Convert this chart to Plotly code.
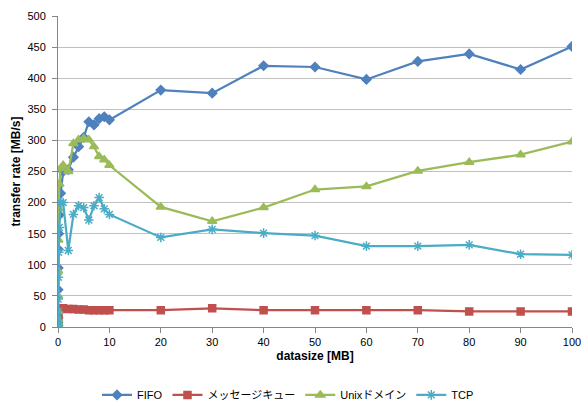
import plotly.graph_objects as go

datasize = [0.001, 0.002, 0.004, 0.008, 0.016, 0.032, 0.064, 0.128, 0.256, 0.512,
            1, 2, 3, 4, 5, 6, 7, 8, 9, 10,
            20, 30, 40, 50, 60, 70, 80, 90, 100]

fifo = [3, 8, 15, 30, 60, 95, 125, 150, 180, 215,
        250, 253, 273, 290, 305, 330, 325, 335, 338, 333,
        381, 376, 420, 418, 398, 427, 439, 414, 451]

mqueue = [1, 2, 4, 7, 12, 18, 22, 26, 28, 30,
          30, 29, 29, 28, 28, 27, 27, 27, 27, 27,
          27, 30, 27, 27, 27, 27, 25, 25, 25]

unix_domain = [2, 6, 12, 25, 50, 90, 140, 190, 230, 255,
               260, 250, 295, 301, 303, 301, 290, 274, 269, 260,
               193, 170, 192, 221, 226, 251, 265, 277, 298]

tcp = [1, 3, 6, 12, 25, 45, 80, 120, 160, 200,
       200, 123, 181, 195, 192, 172, 195, 208, 190, 181,
       144, 157, 151, 147, 130, 130, 132, 117, 116]

series = [
    ("FIFO", fifo, "#4F81BD", "diamond", 7),
    ("メッセージキュー", mqueue, "#C0504D", "square", 7),
    ("Unixドメイン", unix_domain, "#9BBB59", "triangle-up", 8),
    ("TCP", tcp, "#4BACC6", "asterisk-open", 8),
]

fig = go.Figure()
for name, vals, color, sym, size in series:
    fig.add_trace(go.Scatter(
        x=datasize, y=vals, name=name, mode="lines+markers",
        line=dict(color=color, width=2.25),
        marker=dict(symbol=sym, size=size, color=color,
                    line=dict(color=color, width=1.5)),
    ))

font_family = "Liberation Sans, Noto Sans CJK JP, sans-serif"
fig.update_layout(
    width=583, height=405,
    margin=dict(l=58, r=11, t=16, b=78),
    paper_bgcolor="white", plot_bgcolor="white",
    font=dict(family=font_family, size=11, color="#000000"),
    showlegend=True,
    legend=dict(orientation="h", xref="container", yref="container",
                x=0.494, xanchor="center", y=0.025, yanchor="middle",
                font=dict(size=11)),
    xaxis=dict(range=[0, 100], dtick=10, tick0=0, showgrid=False, automargin=False,
               showline=True, linecolor="#868686", linewidth=1,
               ticks="outside", ticklen=5, tickcolor="#868686",
               zeroline=False,
               title=dict(text="<b>datasize [MB]</b>", font=dict(size=12), standoff=4)),
    yaxis=dict(range=[0, 500], dtick=50, tick0=0, showgrid=True, automargin=False,
               gridcolor="#C0C0C0", gridwidth=1,
               showline=True, linecolor="#868686", linewidth=1,
               ticks="outside", ticklen=5, tickcolor="#868686",
               ticklabelstandoff=4,
               zeroline=False,
               title=dict(text="<b>transfer rate [MB/s]</b>", font=dict(size=12), standoff=4)),
)

fig.write_html("out.html", config={"displayModeBar": False},
               post_script="document.body.style.margin='0';")
